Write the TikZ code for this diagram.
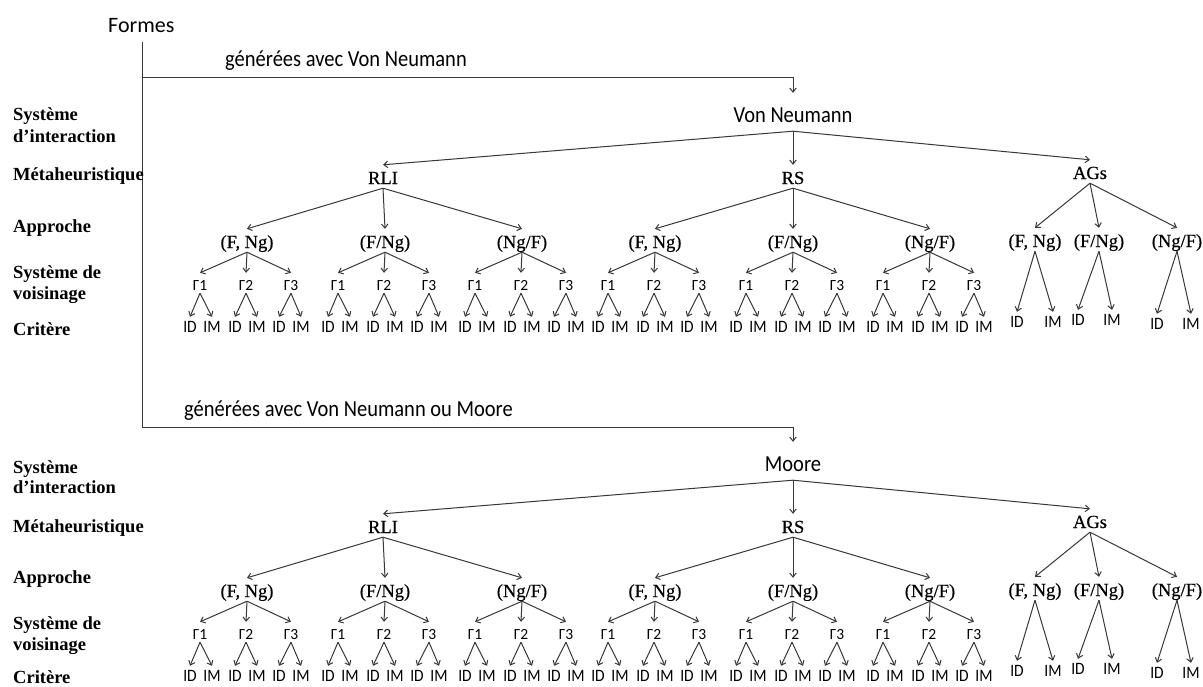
\documentclass[tikz,border=0pt]{standalone}
\usepackage{fontspec}
\usepackage{graphicx}
\setmainfont{Liberation Serif}
\newfontfamily\carl{Carlito}
\newfontfamily\sern[FakeBold=0.4]{Liberation Serif}
\usetikzlibrary{arrows.meta}
\newcommand\vst[1]{\scalebox{1}[1.12]{#1}}

\tikzset{
 ln/.style={draw=black!78, line width=1pt},
 arr/.style={ln, -{Straight Barb[length=4pt,width=6.5pt]}},
 lvl/.style={anchor=base west, font=\bfseries\fontsize{18.5}{20}\selectfont, inner sep=0},
 rootn/.style={anchor=base, font=\carl\fontsize{20.5}{24}\selectfont, inner sep=0, text height=15pt, text depth=9pt},
 ser/.style={anchor=base, font=\sern\fontsize{18.5}{20}\selectfont, inner sep=0, text height=19pt, text depth=4pt},
 gam/.style={anchor=base, font=\carl\fontsize{15.5}{18}\selectfont, inner sep=0, text height=17pt, text depth=3pt},
 crit/.style={anchor=base, font=\carl\fontsize{15.5}{18}\selectfont, inner sep=0, text height=15pt, text depth=0pt},
 toptxt/.style={anchor=base west, font=\carl\fontsize{20.5}{24}\selectfont, inner sep=0},
}

\newcommand\mytree[3]{%
 \node[rootn] (#1root) at (793,122+#2) {\vst{#3}};
 \node[ser] (#1m1) at (383,184+#2) {RLI};
 \node[ser] (#1m2) at (793,184+#2) {RS};
 \node[ser] (#1m3) at (1090,179+#2) {AGs};
 \foreach \k in {1,2,3}{\draw[arr] (#1root.south) -- (#1m\k.north);}
 \foreach \ax/\at/\p [count=\i] in {247/{(F, Ng)}/1, 385/{(F/Ng)}/1, 522/{(Ng/F)}/1, 655/{(F, Ng)}/2, 793/{(F/Ng)}/2, 930/{(Ng/F)}/2}{
  \node[ser] (#1a\i) at (\ax,248+#2) {\at};
  \draw[arr] (#1m\p.south) -- (#1a\i.north);
  \foreach \dx/\lo/\ro [count=\j] in {-47/-10/12,-1/-11/11,44/-12/10}{
   \node[gam] (#1g\i\j) at (\ax+\dx,290+#2) {Γ\j};
   \draw[arr] (#1a\i.south) -- (#1g\i\j.north);
   \node[crit] (#1d\i\j) at (\ax+\dx+\lo,332+#2) {\vst{ID}};
   \node[crit] (#1e\i\j) at (\ax+\dx+\ro,332+#2) {\vst{IM}};
   \draw[arr] (#1g\i\j.south) -- (#1d\i\j.north);
   \draw[arr] (#1g\i\j.south) -- (#1e\i\j.north);
  }
 }
 \foreach \ax/\at/\dx/\ex/\by [count=\i] in {1035/{(F, Ng)}/1017/1053/327, 1099/{(F/Ng)}/1078/1112/325, 1177/{(Ng/F)}/1157/1191/329}{
  \node[ser] (#1b\i) at (\ax,247+#2) {\at};
  \draw[arr] (#1m3.south) -- (#1b\i.north);
  \node[crit] (#1bd\i) at (\dx,\by+#2) {\vst{ID}};
  \node[crit] (#1be\i) at (\ex,\by+#2) {\vst{IM}};
  \draw[arr] (#1b\i.south) -- (#1bd\i.north);
  \draw[arr] (#1b\i.south) -- (#1be\i.north);
 }
}

\begin{document}
\begin{tikzpicture}[x=1pt,y=-1pt]
\useasboundingbox[fill=white] (0,0) rectangle (1203,686);

\node[anchor=base west, font=\carl\fontsize{22}{26}\selectfont, inner sep=0] (formes) at (108,32) {Formes};
\coordinate (ltop) at (142,42);
\coordinate (c1) at (142,77);
\coordinate (c2) at (142,427);
\draw[ln] (ltop) -- (c2);
\node[toptxt] (g1) at (225,66) {\vst{générées avec Von Neumann}};
\node[toptxt] (g2) at (184,416) {\vst{générées avec Von Neumann ou Moore}};

\mytree{t}{0}{Von Neumann}
\mytree{u}{349}{Moore}

\draw[arr, shorten >=14pt] (c1) -| (troot.north);
\draw[arr, shorten >=14pt] (c2) -| (uroot.north);

% level labels
\node[lvl] (la1) at (13,120) {Système};
\node[lvl] (la2) at (13,142) {d’interaction};
\node[lvl] (la3) at (13,180) {Métaheuristique};
\node[lvl] (la4) at (13,232) {Approche};
\node[lvl] (la5) at (13,278) {Système de};
\node[lvl] (la6) at (13,299) {voisinage};
\node[lvl] (la7) at (13,335) {Critère};

\node[lvl] (lb1) at (13,473) {Système};
\node[lvl] (lb2) at (13,493) {d’interaction};
\node[lvl] (lb3) at (13,532) {Métaheuristique};
\node[lvl] (lb4) at (13,583) {Approche};
\node[lvl] (lb5) at (13,629) {Système de};
\node[lvl] (lb6) at (13,650) {voisinage};
\node[lvl] (lb7) at (13,683) {Critère};
\end{tikzpicture}
\end{document}
